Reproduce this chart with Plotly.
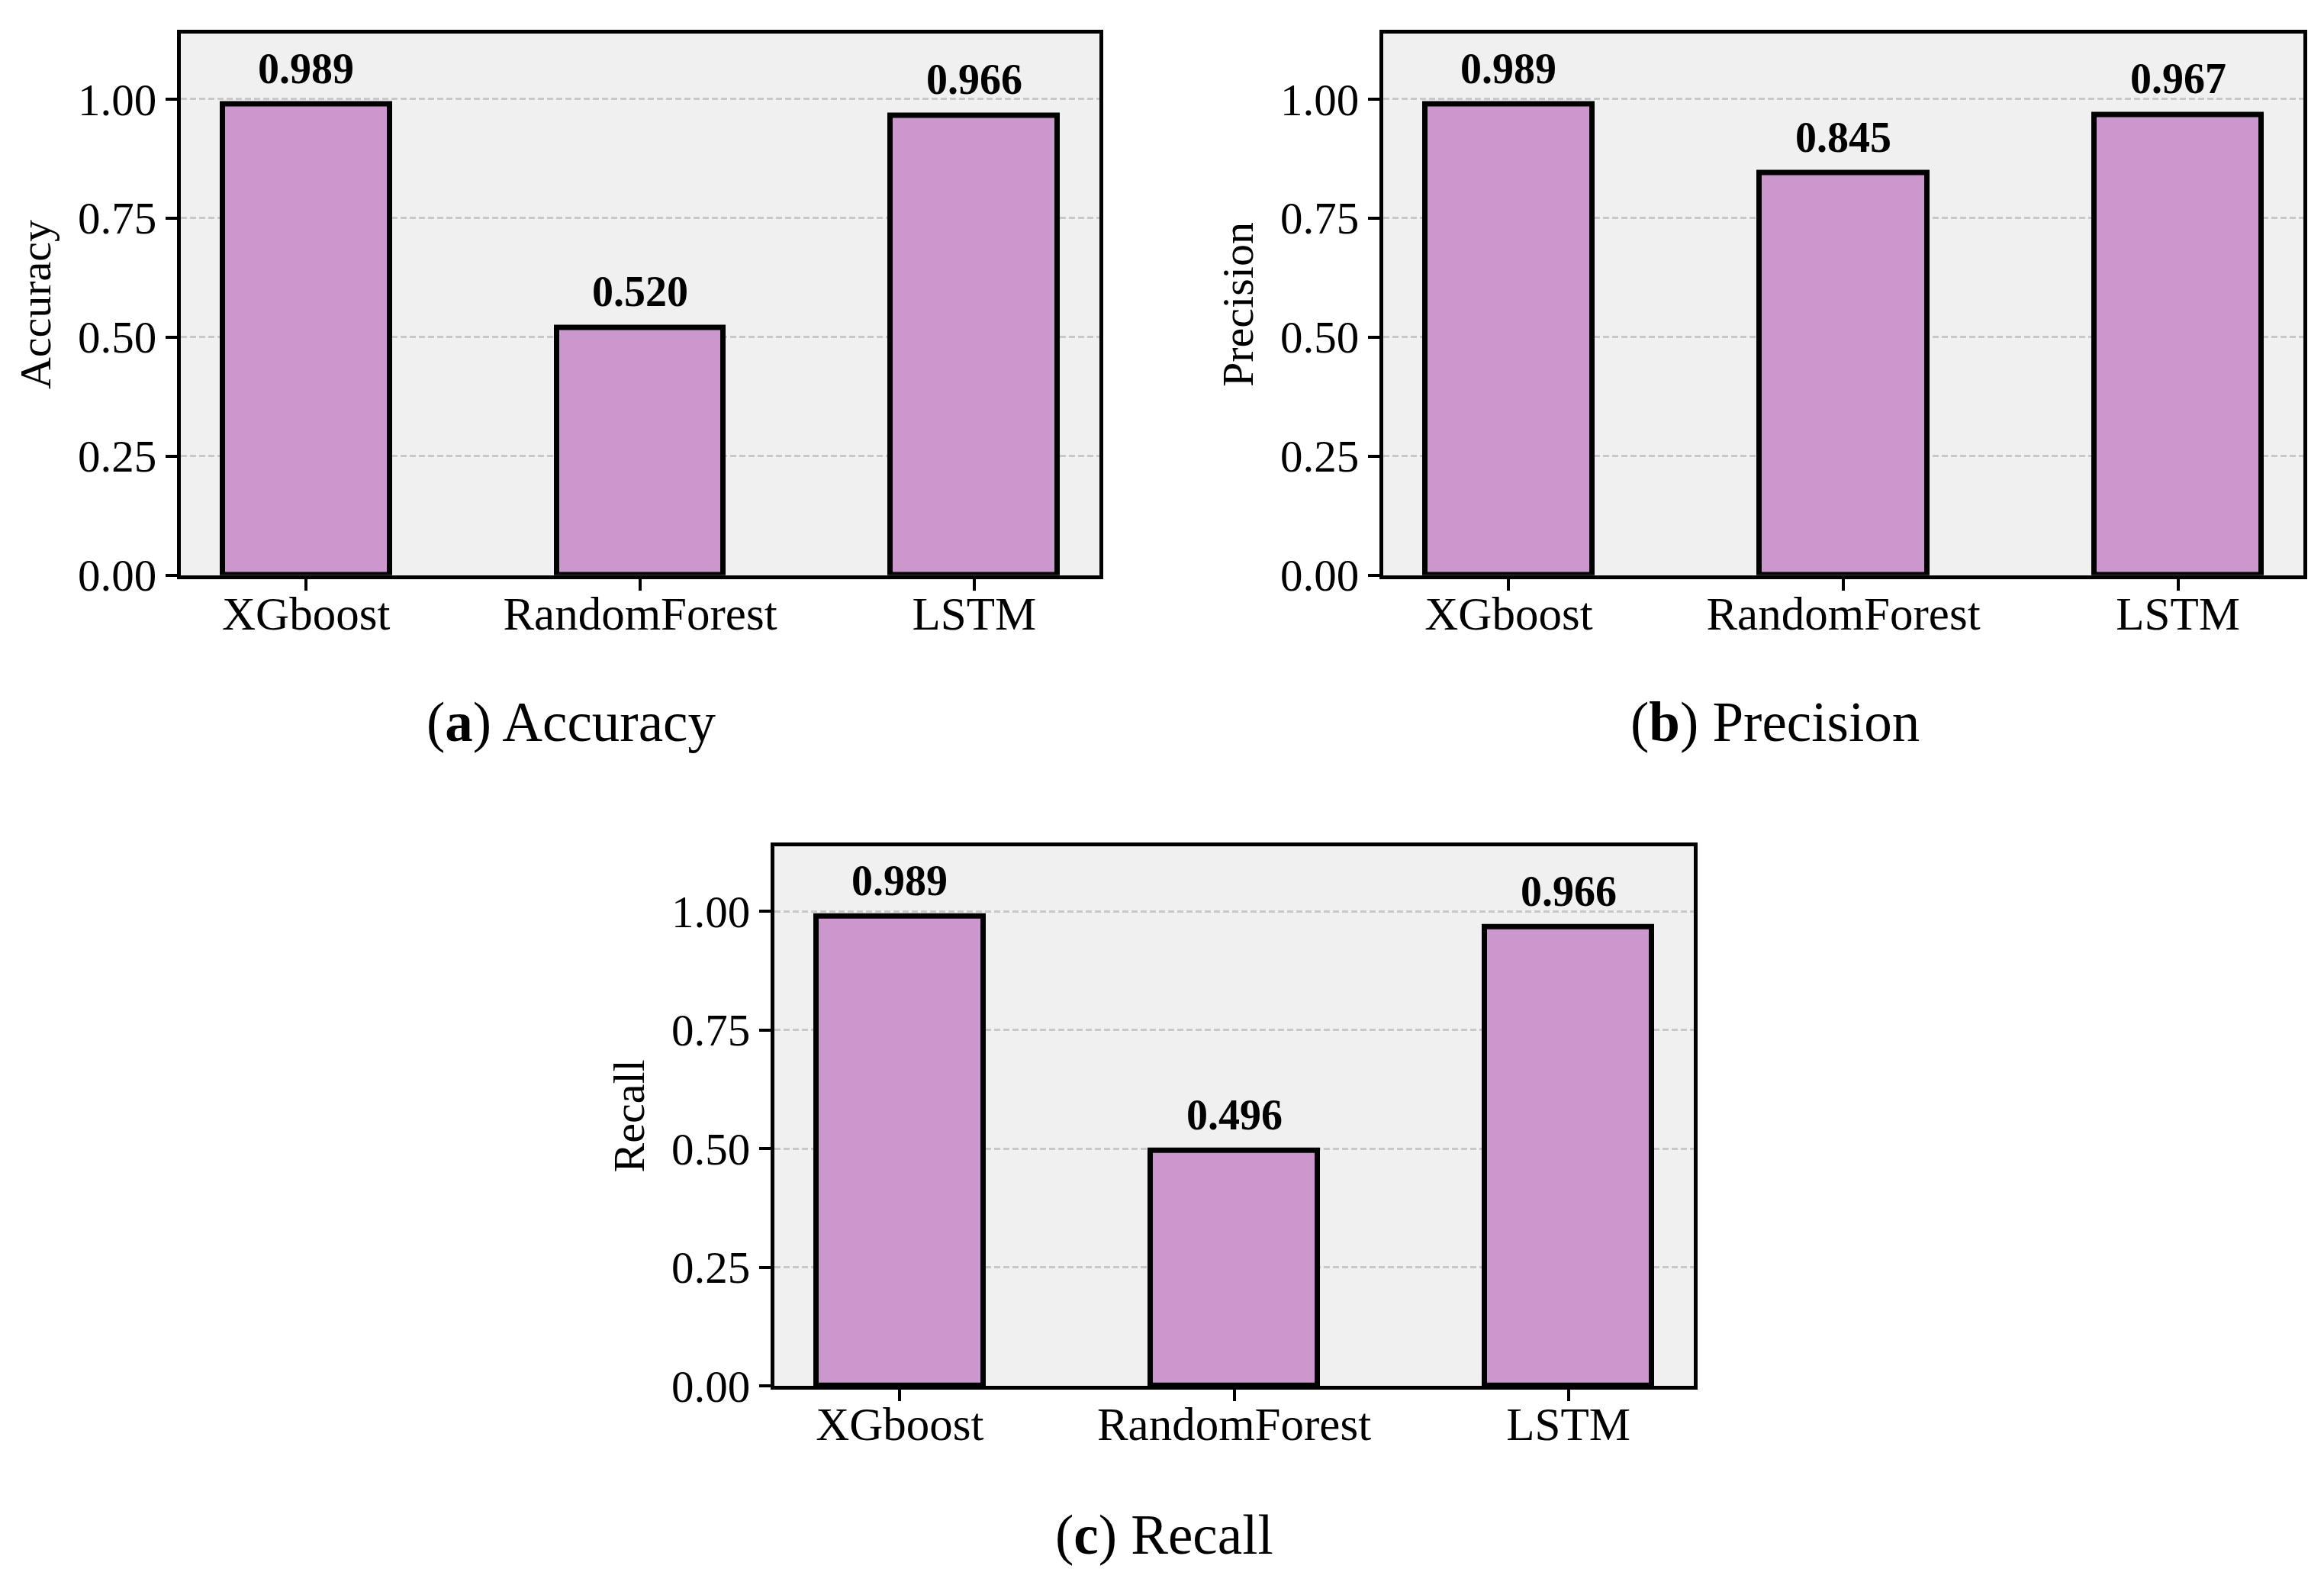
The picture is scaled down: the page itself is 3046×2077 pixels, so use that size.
import plotly.graph_objects as go

models = ["XGboost", "RandomForest", "LSTM"]
accuracy = [0.989, 0.520, 0.966]
precision = [0.989, 0.845, 0.967]
recall = [0.989, 0.496, 0.966]
metric_names = ["Accuracy", "Precision", "Recall"]
panel_letters = ["a", "b", "c"]
y_ticks = [0.0, 0.25, 0.50, 0.75, 1.00]

OFF = 8                      # default body margin of the html page
W, H = 3046 - 2 * OFF, 2090
FONT = "Liberation Serif"
BAR_COLOR = "#CC97CC"

# axes boxes in page pixels: (left, right, top, bottom)
boxes = [(237, 1441, 45, 766), (1813, 3019, 45, 766), (1015, 2220, 1127, 1846)]
caption_pos = [(748, 962), (2326, 962), (1526, 2045)]

series = [accuracy, precision, recall]


def px_x(p):
    return (p - OFF) / W


def px_y(p):
    return 1 - (p - OFF) / H


fig = go.Figure()
annotations = []
for i, (vals, name) in enumerate(zip(series, metric_names)):
    k = "" if i == 0 else str(i + 1)
    fig.add_trace(go.Bar(
        x=models, y=vals, width=0.5,
        marker=dict(color=BAR_COLOR, line=dict(color="black", width=7)),
        xaxis="x" + k, yaxis="y" + k, showlegend=False, hoverinfo="x+y",
    ))
    l, r, t, b = boxes[i]
    fig.update_layout(**{
        "xaxis" + k: dict(
            domain=[px_x(l), px_x(r)], anchor="y" + k, type="category",
            range=[-0.375, 2.375], showline=True, linecolor="black", linewidth=5,
            mirror=True, ticks="outside", ticklen=15, tickwidth=4, tickcolor="black",
            ticklabelstandoff=-22,
            showgrid=False, tickfont=dict(family=FONT, size=61, color="black"),
        ),
        "yaxis" + k: dict(
            domain=[px_y(b), px_y(t)], anchor="x" + k,
            range=[0, 1.137], tickvals=y_ticks, tickformat=".2f",
            showline=True, linecolor="black", linewidth=5, mirror=True,
            ticks="outside", ticklen=15, tickwidth=4, tickcolor="black",
            showgrid=True, gridcolor="#c8c8c8", gridwidth=3, griddash="8px,4px",
            zeroline=False, tickfont=dict(family=FONT, size=59, color="black"),
            title=dict(text=name, font=dict(family=FONT, size=58, color="black"), standoff=18),
        ),
    })
    for m, v in zip(models, vals):
        annotations.append(dict(
            x=m, y=v, xref="x" + k, yref="y" + k, text="<b>%.3f</b>" % v,
            showarrow=False, yanchor="middle", yshift=47,
            font=dict(family=FONT, size=56, color="black"),
        ))
    cx, cy = caption_pos[i]
    annotations.append(dict(
        x=px_x(cx), y=px_y(cy), xref="paper", yref="paper",
        text="(<b>%s</b>) %s" % (panel_letters[i], name),
        showarrow=False, xanchor="center", yanchor="middle",
        font=dict(family=FONT, size=73, color="black"),
    ))

fig.update_layout(
    width=W, height=H, margin=dict(l=0, r=0, t=0, b=0),
    paper_bgcolor="white", plot_bgcolor="#F0F0F0",
    annotations=annotations, bargap=0,
)

fig.write_html("out.html")
